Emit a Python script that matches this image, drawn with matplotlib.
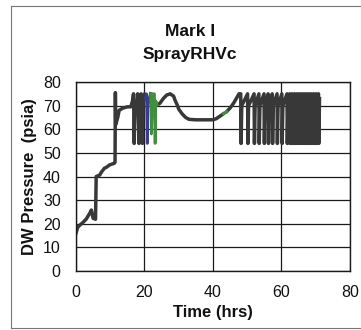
import matplotlib
matplotlib.use("Agg")
import matplotlib.pyplot as plt
from matplotlib.lines import Line2D

plt.rcParams['font.family'] = ['Liberation Sans', 'DejaVu Sans']

title_lines = ["Mark I", "SprayRHVc"]
x_label = "Time (hrs)"
y_label = "DW Pressure  (psia)"
x_ticks = [0, 20, 40, 60, 80]
y_ticks = [0, 10, 20, 30, 40, 50, 60, 70, 80]

# main (dark) trace
main_t = [0, 0.5, 1.2, 2, 3, 4, 4.5, 5, 5.7, 5.9, 6.9, 7.5, 8.3, 9, 9.8, 11.2, 11.4,
          11.5, 11.6, 12.2, 12.6, 13.6, 15, 16, 16.5, 16.8, 17.0, 17.2, 17.6, 18.0,
          18.4, 18.6, 19.0, 19.4, 19.6, 20.0, 20.3]
main_p = [16, 18.5, 19.5, 20.5, 22, 24.4, 25.8, 22.3, 21.9, 40, 40.6, 42, 43.5, 44, 44.9, 45.6, 46,
          75.5, 62, 65, 68, 68.9, 69.5, 69.5, 72, 75, 54, 70, 68, 75,
          54, 72, 75, 54, 70, 75, 73]

blue_t = [20.3, 20.6, 20.8, 21.0, 21.5]
blue_p = [73, 75, 54, 70, 73]

mid_t = [21.5, 21.8]
mid_p = [73, 75]

green_t = [21.8, 22.0, 22.2, 22.5, 22.9, 23.1, 23.3, 23.7]
green_p = [75, 58, 66, 75, 75, 54, 72, 70.3]

hump_t = [23.7, 24.5, 25.5, 26.5, 27.5, 28.5, 29, 29.5, 30, 31, 32, 33, 35, 38, 40,
          41, 42, 43.0]
hump_p = [70.3, 71, 73, 74.5, 75, 74, 72, 70.5, 68.5, 66.5, 65, 64.2, 64, 64, 64,
          64.5, 65.5, 66.5]

green2_t = [43.0, 44.0]
green2_p = [66.5, 67.5]

cyc_t = [44.0, 45, 46, 47, 47.6,
         48.1, 48.2, 48.4, 50.1, 50.2, 50.4, 52.0, 52.1, 52.3, 53.4, 53.5, 53.7,
         54.9, 55.0, 55.2, 56.1, 56.2, 56.4, 57.3, 57.4, 57.6, 58.7, 58.8, 59.0,
         60.1, 60.2, 60.4, 61.6, 61.7, 61.9, 62.4, 62.5, 62.7, 63.1, 63.2, 63.4,
         63.8, 63.9, 64.1, 64.5, 64.6, 64.8, 65.2, 65.3, 65.5, 65.9, 66.0, 66.2,
         66.6, 66.7, 66.9, 67.3, 67.4, 67.6, 68.0, 68.1, 68.3, 68.7, 68.8, 69.0,
         69.4, 69.5, 69.7, 70.1, 70.2, 70.4, 70.8, 70.9, 71.1]
cyc_p = [67.5, 69, 71, 73.5, 75,
         75, 54, 70, 75, 54, 70, 75, 54, 70, 75, 54, 70,
         75, 54, 70, 75, 54, 70, 75, 54, 70, 75, 54, 70,
         75, 54, 70, 75, 54, 70, 75, 54, 70, 75, 54, 70,
         75, 54, 70, 75, 54, 70, 75, 54, 70, 75, 54, 70,
         75, 54, 70, 75, 54, 70, 75, 54, 70, 75, 54, 70,
         75, 54, 70, 75, 54, 70, 75, 54, 73]

dark = "#383838"
blue = "#3b3b96"
green = "#3f8f3f"

fig = plt.figure(figsize=(3.61, 3.30), dpi=100)
fig.patch.set_facecolor("white")
ax = fig.add_axes([0.2105, 0.1788, 0.759, 0.5727])

lw = 2.5
ax.plot(main_t, main_p, color=dark, lw=lw)
ax.plot(mid_t, mid_p, color=dark, lw=lw)
ax.plot(hump_t, hump_p, color=dark, lw=lw)
ax.plot(cyc_t, cyc_p, color=dark, lw=lw)
ax.plot(blue_t, blue_p, color=blue, lw=2.0)
ax.plot(green_t, green_p, color=green, lw=2.0)
ax.plot(green2_t, green2_p, color=green, lw=2.0)

ax.set_xlim(0, 80)
ax.set_ylim(0, 80)
ax.set_xticks(x_ticks)
ax.set_yticks(y_ticks)
ax.grid(True, color="#1a1a1a", lw=0.9)
ax.set_axisbelow(True)
for s in ax.spines.values():
    s.set_color("#1a1a1a")
    s.set_linewidth(1.0)
ax.tick_params(length=0, labelsize=11.5, colors="#111111")
ax.tick_params(axis='y', pad=11)
ax.tick_params(axis='x', pad=10)
ax.set_xlabel(x_label, fontsize=12, fontweight='bold', labelpad=4, color="#111111")
ax.set_ylabel(y_label, fontsize=12, fontweight='bold', labelpad=4, color="#111111")

fig.text(190/361, 1 - 32/330, title_lines[0], ha='center', va='center',
         fontsize=12.5, fontweight='bold', color="#111111")
fig.text(190/361, 1 - 55/330, title_lines[1], ha='center', va='center',
         fontsize=12.5, fontweight='bold', color="#111111")

# outer frame: left, top and bottom edges only
x0, x1 = 11/361, 1.0
y0, y1 = 1 - 328/330, 1 - 6/330
for xs, ys in [([x0, x0], [y0, y1]), ([x0, x1], [y1, y1]), ([x0, x1], [y0, y0])]:
    fig.add_artist(Line2D(xs, ys, transform=fig.transFigure, color="#777777", lw=0.8))

fig.savefig("out.png", dpi=100)
